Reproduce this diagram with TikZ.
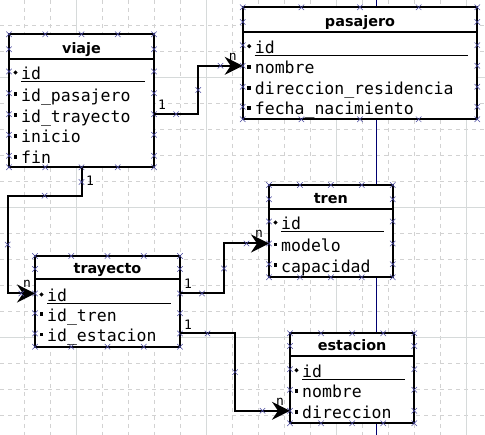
\documentclass[tikz,border=0pt]{standalone}
\usepackage{fontspec}
\setmainfont{DejaVu Sans}
\newfontfamily\monof{DejaVu Sans Mono}
\usetikzlibrary{arrows.meta,shapes.misc,shapes.geometric,fit}
\definecolor{gridd}{HTML}{D2D2D2}
\definecolor{grids}{HTML}{D6DADA}
\definecolor{cpc}{HTML}{4A4AA0}
\definecolor{pagec}{HTML}{000070}
\tikzset{
 tbl/.style={draw, line width=2pt, fill=white, rectangle, inner sep=0pt},
 ttl/.style={font=\bfseries\fontsize{14.4}{14.4}\selectfont, anchor=base, inner sep=0pt},
 rowtxt/.style={font=\monof\fontsize{16.5}{16.5}\selectfont, anchor=base west, inner sep=0pt},
 conn/.style={line width=2pt, -{Stealth[length=18pt,width=18pt,inset=6pt]}},
 cp/.style={cross out, draw=cpc, line width=0.5pt, minimum size=5pt, inner sep=0pt, arrows=-},
 lab/.style={font=\monof\fontsize{13}{13}\selectfont, inner sep=0pt},
 keyb/.style={diamond, fill=black, inner sep=0pt, minimum size=4.5pt},
 attb/.style={rectangle, fill=black, inner sep=0pt, minimum size=3.6pt},
 gdash/.style={draw=gridd, line width=0.6pt, dash pattern=on 4pt off 4pt},
 gsolid/.style={draw=grids, line width=0.7pt},
}
\newcommand\umltab[8]{%
  \node[tbl, fit={(#2,#3) (#4,#5)}] (#1) {};
  \draw[line width=2pt] (#2,#6) -- (#4,#6);
  \node[ttl] (#1-t) at ({(#2+#4)/2},#6-5) {#7};
  \node[cp] at (#2,#6-9.7) {};
  \node[cp] at (#4,#6-9.7) {};
  \foreach \k in {0,...,4} {%
    \node[cp] at ({#2+(#4-#2)*\k/4},#3) {};
    \node[cp] at ({#2+(#4-#2)*\k/4},#5) {};
  }
  \foreach \ry/\rt [count=\i] in {#8} {%
    \node[rowtxt] (#1-\i) at (#2+12,\ry+5.5) {\rt};
    \coordinate (#1-a\i) at (#2,\ry-2.5);
    \coordinate (#1-b\i) at (#4,\ry-2.5);
    \node[cp] at (#1-a\i) {};
    \node[cp] at (#1-b\i) {};
    \ifnum\i=1
      \node[keyb] at (#2+6.5,\ry-1.5) {};
      \draw[line width=0.9pt] (#2+12,\ry+7.5) -- (#4-9,\ry+7.5);
    \else
      \node[attb] at (#2+6.5,\ry-1.5) {};
    \fi
  }
}
\begin{document}
\begin{tikzpicture}[x=1pt,y=-1pt]
\useasboundingbox[fill=white] (0,0) rectangle (485,435);
% grid
\foreach \k in {-2,...,15} \draw[gdash] (76.7+26*\k,0) -- (76.7+26*\k,435);
\foreach \k in {-2,...,13} \draw[gdash] (0,77.7+26*\k) -- (485,77.7+26*\k);
\foreach \gx in {76.7,206.7,336.7,466.7} \draw[gsolid] (\gx,0) -- (\gx,435);
\foreach \gy in {77.7,207.7,337.7} \draw[gsolid] (0,\gy) -- (485,\gy);
% page boundary
\draw[pagec, line width=1.2pt] (376.7,0) -- (376.7,435);
% tables
\umltab{viaje}{9}{34.3}{154}{167.3}{59}{viaje}{74/id,95.7/id\_pasajero,116.7/id\_trayecto,137.3/inicio,158.3/fin}
\umltab{pasajero}{242.7}{7.3}{477.3}{119.3}{31.7}{pasajero}{47.7/id,68.3/nombre,89.3/direccion\_residencia,109.3/fecha\_nacimiento}
\umltab{tren}{269}{185}{392.7}{277.3}{209}{tren}{224/id,246/modelo,266.7/capacidad}
\umltab{trayecto}{35}{256}{180}{346.7}{278.7}{trayecto}{296/id,315.7/id\_tren,336/id\_estacion}
\umltab{estacion}{290}{333.3}{414.3}{423.3}{355.7}{estacion}{371.7/id,392.3/nombre,413.3/direccion}
% bend coordinates
\coordinate (c1x) at (198.3,0);
\coordinate (c2y) at (0,195.7);
\coordinate (c2x) at (7.7,0);
\coordinate (c3x) at (224,0);
\coordinate (c4x) at (235,0);
% connectors
\draw[conn] (viaje-b3) -- node[cp]{} (viaje-b3 -| c1x) -- node[cp]{} (c1x |- pasajero-a2) -- node[cp]{} (pasajero-a2);
\draw[conn] (viaje.south) -- node[cp]{} (viaje.south |- c2y) -- node[cp]{} (c2x |- c2y) -- node[cp]{} (c2x |- trayecto-a1) -- node[cp]{} (trayecto-a1);
\draw[conn] (trayecto-b1) -- node[cp]{} (trayecto-b1 -| c3x) -- node[cp]{} (c3x |- tren-a2) -- node[cp]{} (tren-a2);
\draw[conn] (trayecto-b3) -- node[cp]{} (trayecto-b3 -| c4x) -- node[cp]{} (c4x |- estacion-a3) -- node[cp]{} (estacion-a3);
% labels
\node[lab] (l1a) at ([shift={(8,-9)}]viaje-b3) {1};
\node[lab] (l1b) at ([shift={(-10,-9)}]pasajero-a2) {n};
\node[lab] (l2a) at ([shift={(8.5,12.7)}]viaje.south) {1};
\node[lab] (l2b) at ([shift={(-8,-10)}]trayecto-a1) {n};
\node[lab] (l3a) at ([shift={(8,-10)}]trayecto-b1) {1};
\node[lab] (l3b) at ([shift={(-10,-10)}]tren-a2) {n};
\node[lab] (l4a) at ([shift={(8,-9)}]trayecto-b3) {1};
\node[lab] (l4b) at ([shift={(-10,-9)}]estacion-a3) {n};
\end{tikzpicture}
\end{document}
